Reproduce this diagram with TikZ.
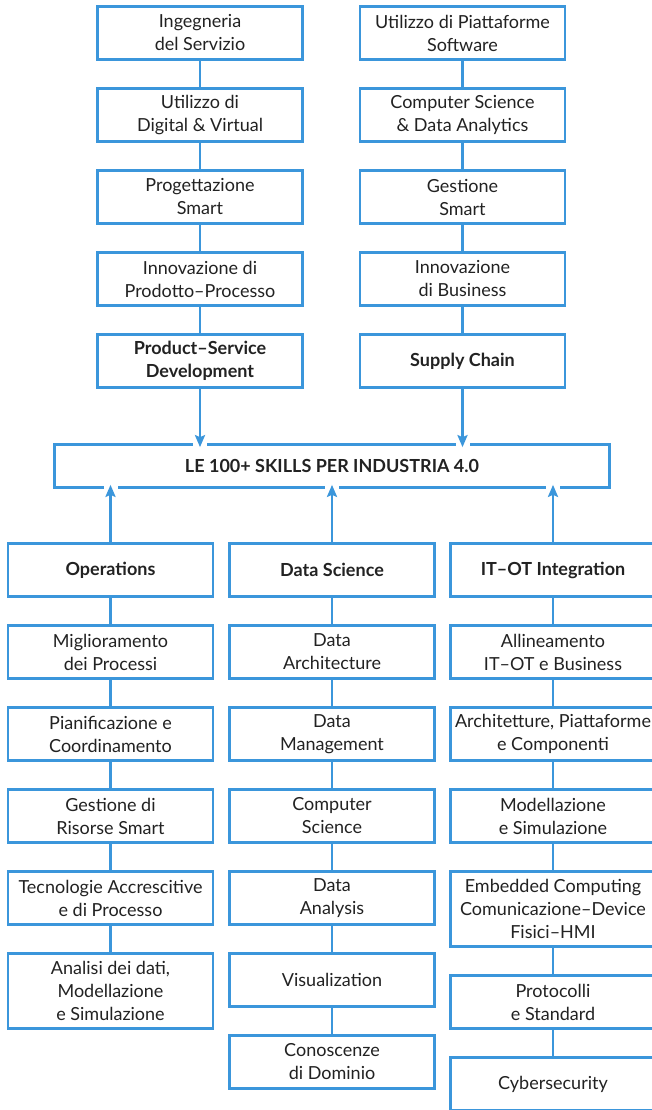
\documentclass[tikz,border=0pt]{standalone}
\usepackage{fontspec}
\setmainfont{Lato}
\usetikzlibrary{arrows.meta,positioning}
\definecolor{skyline}{HTML}{3B96DB}
\definecolor{ink}{HTML}{222222}
\tikzset{
  skillbox/.style={
    rectangle, draw=skyline, line width=2.7pt, fill=white, text=ink,
    minimum width=205pt, minimum height=53pt, align=center,
    inner xsep=0pt, inner ysep=4pt, font=\fontsize{18}{23}\selectfont
  },
  tallbox/.style={skillbox, minimum height=75pt},
  headbox/.style={skillbox, font=\fontsize{18}{23}\selectfont\bfseries},
  hubbox/.style={headbox, minimum width=555pt, minimum height=43pt},
  link/.style={draw=skyline, line width=2.7pt},
  feed/.style={
    link, -{Stealth[length=12pt, width=10pt, inset=2pt]}, shorten >=-4pt,
    preaction={draw=white, line width=14pt, arrows=-, shorten <=4pt}
  },
}

\begin{document}
\begin{tikzpicture}[x=1pt, y=1pt, node distance=26.3pt]
  \useasboundingbox (0,0) rectangle (652,-1110);

  % Product-Service chain
  \node[skillbox] (serv) at (200,-33) {Ingegneria\\del Servizio};
  \node[skillbox, below=of serv] (digi) {Utilizzo di\\Digital \& Virtual};
  \node[skillbox, below=of digi] (prog) {Progettazione\\Smart};
  \node[skillbox, below=of prog] (innp) {Innovazione di\\Prodotto--Processo};
  \node[headbox, below=of innp] (psd) {Product--Service\\Development};

  % Supply Chain chain
  \node[skillbox] (piat) at (462.5,-33) {Utilizzo di Piattaforme\\Software};
  \node[skillbox, below=of piat] (csda) {Computer Science\\\& Data Analytics};
  \node[skillbox, below=of csda] (gest) {Gestione\\Smart};
  \node[skillbox, below=of gest] (innb) {Innovazione\\di Business};
  \node[headbox, below=of innb] (supc) {Supply Chain};

  % Hub
  \node[hubbox] (skills) at (332,-466) {LE 100+ SKILLS PER INDUSTRIA 4.0};

  % Operations column
  \node[headbox] (ops) at (110.5,-570) {Operations};
  \node[skillbox, below=of ops] (miglio) {Miglioramento\\dei Processi};
  \node[skillbox, below=of miglio] (pianif) {Pianificazione e\\Coordinamento};
  \node[skillbox, below=of pianif] (risorse) {Gestione di\\Risorse Smart};
  \node[skillbox, below=of risorse] (tecno) {Tecnologie Accrescitive\\e di Processo};
  \node[tallbox, below=of tecno] (analisi) {Analisi dei dati,\\Modellazione\\e Simulazione};

  % Data Science column
  \node[headbox] (dsci) at (332,-570) {Data Science};
  \node[skillbox, below=of dsci] (darch) {Data\\Architecture};
  \node[skillbox, below=of darch] (dman) {Data\\Management};
  \node[skillbox, below=of dman] (compsci) {Computer\\Science};
  \node[skillbox, below=of compsci] (dana) {Data\\Analysis};
  \node[skillbox, below=of dana] (visual) {Visualization};
  \node[skillbox, below=of visual] (domin) {Conoscenze\\di Dominio};

  % IT-OT column
  \node[headbox] (itot) at (553,-570) {IT--OT Integration};
  \node[skillbox, below=of itot] (allin) {Allineamento\\IT--OT e Business};
  \node[skillbox, below=of allin] (archi) {Architetture, Piattaforme\\e Componenti};
  \node[skillbox, below=of archi] (model) {Modellazione\\e Simulazione};
  \node[tallbox, below=of model] (embed) {Embedded Computing\\Comunicazione--Device\\Fisici--HMI};
  \node[skillbox, below=of embed] (proto) {Protocolli\\e Standard};
  \node[skillbox, below=of proto] (cyber) {Cybersecurity};

  % Links
  \draw[link] (serv) -- (digi);
  \draw[link] (digi) -- (prog);
  \draw[link] (prog) -- (innp);
  \draw[link] (innp) -- (psd);
  \draw[link] (piat) -- (csda);
  \draw[link] (csda) -- (gest);
  \draw[link] (gest) -- (innb);
  \draw[link] (innb) -- (supc);
  \draw[link] (ops) -- (miglio);
  \draw[link] (miglio) -- (pianif);
  \draw[link] (pianif) -- (risorse);
  \draw[link] (risorse) -- (tecno);
  \draw[link] (tecno) -- (analisi);
  \draw[link] (dsci) -- (darch);
  \draw[link] (darch) -- (dman);
  \draw[link] (dman) -- (compsci);
  \draw[link] (compsci) -- (dana);
  \draw[link] (dana) -- (visual);
  \draw[link] (visual) -- (domin);
  \draw[link] (itot) -- (allin);
  \draw[link] (allin) -- (archi);
  \draw[link] (archi) -- (model);
  \draw[link] (model) -- (embed);
  \draw[link] (embed) -- (proto);
  \draw[link] (proto) -- (cyber);

  % Arrows into the hub
  \draw[feed] (psd.south) -- (psd.south |- skills.north);
  \draw[feed] (supc.south) -- (supc.south |- skills.north);
  \draw[feed] (ops.north) -- (ops.north |- skills.south);
  \draw[feed] (dsci.north) -- (dsci.north |- skills.south);
  \draw[feed] (itot.north) -- (itot.north |- skills.south);
\end{tikzpicture}
\end{document}
